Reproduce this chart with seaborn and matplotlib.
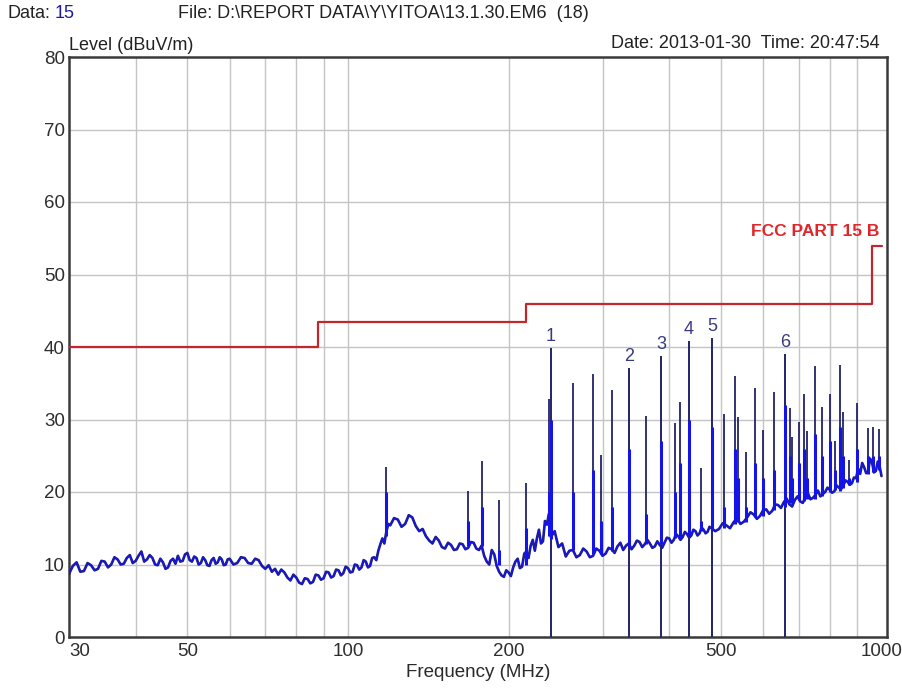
import numpy as np
import matplotlib
matplotlib.use('Agg')
import matplotlib.pyplot as plt
import seaborn as sns
import pandas as pd


# baseline trace (MHz, dBuV/m)
trace_mhz = [30, 30.5, 31, 31.5, 32, 32.5, 33, 33.5, 34, 34.5, 35, 35.5, 36, 36.5, 37, 37.5,
             38, 38.5, 39, 39.5, 40, 40.5, 41, 41.5, 42, 42.5, 43, 43.5, 44, 44.5, 45, 45.5,
             46, 46.5, 47, 47.5, 48, 48.5, 49, 49.5, 50, 50.5, 51, 51.5, 52, 52.5, 53, 53.5,
             54, 54.5, 55, 55.5, 56, 56.5, 57, 57.5, 58, 58.5, 59, 59.5,
             60, 61, 62, 63, 64, 65, 66, 67, 68, 69, 70, 71, 72, 73, 74, 75, 76, 77, 78, 79,
             80, 81, 82, 83, 84, 85, 86, 87, 88, 89, 90, 91, 92, 93, 94, 95, 96, 97, 98, 99,
             100, 101, 102, 103, 104, 105, 106, 107, 108, 109, 110, 111, 112, 113, 114, 115,
             116, 117, 118, 119,
             120, 122, 124, 126, 128, 130, 132, 134, 136, 138, 140, 142, 144, 146, 148, 150,
             152, 154, 156, 158, 160, 162, 164, 166, 168, 170, 172, 174, 176, 178, 180, 182,
             184, 186, 188, 190, 192, 194, 196, 198, 200, 202, 204, 206, 208, 210, 212, 214,
             216, 218, 220, 222, 224, 226, 228, 230, 232, 234, 236, 238,
             240, 244, 248, 252, 256, 260, 264, 268, 272, 276, 280, 284, 288, 292, 296, 300,
             304, 308, 312, 316, 320, 324, 328, 332, 336, 340, 344, 348, 352, 356, 360, 364,
             368, 372, 376, 380, 384, 388, 392, 396, 400, 404, 408, 412, 416, 420, 424, 428,
             432, 436, 440, 444, 448, 452, 456, 460, 464, 468, 472, 476,
             480, 488, 496, 504, 512, 520, 528, 536, 544, 552, 560, 568, 576, 584, 592, 600,
             608, 616, 624, 632, 640, 648, 656, 664, 672, 680, 688, 696, 704, 712, 720, 728,
             736, 744, 752, 760, 768, 776, 784, 792, 800, 808, 816, 824, 832, 840, 848, 856,
             864, 872, 880, 888, 896, 904, 912, 920, 928, 936, 944, 952, 960, 968, 976, 984,
             992, 1000]
trace_db = [8.7, 9.8, 10.3, 9.0, 9.1, 10.2, 9.9, 9.2, 9.4, 10.5, 10.4, 9.6, 10.0, 11.0, 10.7,
            10.0, 10.1, 10.9, 11.3, 10.2, 10.5, 11.2, 11.8, 10.4, 10.7, 11.3, 10.9, 10.0, 9.9,
            10.8, 10.3, 9.4, 9.6, 10.5, 10.8, 10.1, 11.2, 10.4, 10.5, 11.4, 11.6, 10.6, 10.4,
            11.1, 10.9, 10.0, 10.2, 11.0, 10.6, 9.9, 9.8, 10.6, 10.9, 10.1, 10.3, 11.0, 10.7,
            9.9, 10.0, 10.7,
            10.8, 10.0, 10.2, 11.0, 10.9, 10.2, 10.1, 10.8, 10.6, 9.8, 9.4, 9.9, 9.0, 9.4, 8.6,
            9.3, 8.9, 8.2, 7.8, 8.6, 8.2, 7.5, 7.3, 8.1, 8.0, 7.4, 7.6, 8.6, 8.5, 7.9, 8.1, 9.0,
            8.9, 8.2, 8.4, 9.3, 9.2, 8.5, 8.8, 9.7, 9.5, 8.9, 9.0, 10.0, 9.9, 9.3, 9.6, 10.6,
            10.4, 9.6, 9.8, 10.9, 11.0, 10.6, 11.9, 12.8, 13.6, 12.9, 14.5, 15.6,
            15.4, 16.4, 16.2, 15.2, 15.6, 16.8, 16.5, 15.3, 14.6, 14.9, 13.9, 13.3, 12.9, 13.8,
            13.3, 12.4, 12.2, 13.0, 12.7, 12.0, 12.1, 12.9, 12.8, 12.1, 12.3, 13.1, 13.0, 12.2,
            12.0, 12.6, 11.2, 10.4, 10.0, 12.0, 11.4, 9.8, 9.0, 8.5, 8.3, 9.2, 8.9, 8.4, 9.6,
            10.4, 10.8, 9.5, 9.7, 11.5, 11.8, 10.9, 12.6, 13.4, 11.9, 13.6, 14.8, 12.9, 13.2,
            16.0, 15.5, 17.0,
            13.8, 14.6, 12.4, 12.9, 11.1, 11.9, 12.0, 11.0, 11.3, 12.2, 11.8, 11.0, 11.2, 12.2,
            11.9, 11.2, 11.5, 12.3, 12.1, 11.6, 12.5, 13.0, 12.0, 12.6, 12.9, 12.1, 12.6, 13.3,
            13.1, 12.4, 12.8, 13.4, 12.9, 12.3, 12.5, 13.2, 12.7, 12.3, 13.0, 13.7, 13.6, 13.0,
            13.4, 14.2, 13.9, 13.4, 13.8, 14.5, 14.2, 13.7, 14.0, 14.8, 14.6, 14.0, 14.3, 15.1,
            14.8, 14.3, 14.5, 15.2,
            15.0, 14.6, 14.9, 15.7, 15.4, 15.0, 15.8, 16.4, 15.6, 15.9, 16.5, 17.2, 16.9, 16.3,
            16.7, 17.5, 17.6, 17.0, 17.4, 18.3, 18.2, 17.8, 18.6, 19.1, 18.3, 18.0, 18.9, 19.4,
            18.7, 18.5, 19.3, 19.8, 19.0, 19.2, 19.6, 20.2, 19.4, 19.7, 20.0, 20.6, 20.3, 19.9,
            20.1, 20.9, 20.6, 20.4, 20.9, 21.6, 21.4, 21.0, 21.2, 22.0, 21.9, 23.2, 22.5, 24.0,
            23.4, 22.6, 22.8, 24.6, 24.1, 22.7, 22.9, 24.2, 23.5, 22.2]

# narrow emission spikes: frequency, foot, top of blue part, peak
spike_mhz = [118, 168, 178, 192, 216, 238, 264, 288, 298, 312, 362, 410, 419, 459,
             507, 531, 538, 557, 579, 600, 629, 674, 680, 700, 716, 725, 751, 774,
             801, 818, 836, 847, 869, 900, 944, 964, 990]
spike_base = [14.0, 12.5, 12.5, 10.0, 10.0, 14.0, 12.0, 11.5, 11.5, 11.8, 12.8, 13.6, 13.5,
              14.6, 15.0, 15.6, 15.8, 15.8, 16.5, 16.7, 17.5, 18.5, 18.5, 18.9, 18.8, 19.0,
              19.1, 19.5, 20.0, 20.3, 20.2, 20.6, 20.9, 21.4, 22.5, 22.8, 23.0]
spike_blue = [20, 16, 18, 12, 15, 20, 20, 23, 16, 18, 17, 20, 24, 16,
              18, 26, 22, 18, 24, 22, 23, 25, 22, 24, 26, 22, 28, 25,
              27, 23, 29, 25, 22, 26, 25, 25, 25]
spike_peak = [23.5, 20.1, 24.3, 18.9, 21.2, 32.8, 35.0, 36.3, 25.1, 34.1, 30.5, 29.5, 32.4,
              23.3, 30.8, 36.0, 30.3, 25.5, 34.3, 28.6, 33.8, 31.6, 27.6, 29.7, 33.5, 28.4,
              37.4, 31.7, 33.5, 27.0, 37.5, 31.0, 24.4, 32.3, 28.8, 29.0, 28.7]

# marked peaks
mark_no = ['1', '2', '3', '4', '5', '6']
mark_mhz = [240, 336, 386, 435, 481, 659]
mark_db = [39.9, 37.1, 38.8, 40.8, 41.2, 39.0]
mark_blue = [30, 26, 27, 30, 29, 32]

# FCC part 15 B class B limit
limit_mhz = [30, 88, 216, 960, 1000]
limit_db = [40, 43.5, 46, 54, 54]

x_ticks = [30, 50, 100, 200, 500, 1000]
x_minor = [40, 60, 70, 80, 90, 300, 400, 600, 700, 800, 900]
y_ticks = [0, 10, 20, 30, 40, 50, 60, 70, 80]

navy = '#23236b'
blue = '#1414e8'
grey = '#c4c4c4'

sns.set_style('white')
plt.rcParams['font.family'] = ['Liberation Sans', 'DejaVu Sans']

W, H = 903, 688
fig = plt.figure(figsize=(W / 100, H / 100), dpi=100)
ax = fig.add_axes([69 / W, 1 - 637 / H, 818 / W, 580 / H])

ax.set_xscale('log')
ax.set_xlim(30, 1024)
ax.set_ylim(0, 80)

# grid
for f in x_ticks[1:-1] + x_minor:
    ax.axvline(f, color=grey, lw=1, zorder=0)
for v in y_ticks[1:-1]:
    ax.axhline(v, color=grey, lw=1, zorder=0)

# limit line
lim = pd.DataFrame({'MHz': limit_mhz, 'dB': limit_db})
sns.lineplot(data=lim, x='MHz', y='dB', drawstyle='steps-post', color='#c2272d', lw=1.6,
             ax=ax, zorder=3)
ax.text(990, 55.9, 'FCC PART 15 B', color='#e0262a', fontsize=12.5, fontweight='bold',
        ha='right', va='center')

# trace
tr = pd.DataFrame({'MHz': trace_mhz, 'dB': trace_db})
ax.vlines(spike_mhz, spike_base, spike_peak, color=navy, lw=1.3, zorder=4)
ax.vlines(spike_mhz, spike_base, spike_blue, color=blue, lw=2.2, zorder=5)
sns.lineplot(data=tr, x='MHz', y='dB', color=navy, lw=1.9, ax=ax, zorder=4)
sns.lineplot(data=tr, x='MHz', y='dB', color=blue, lw=1.0, ax=ax, zorder=5)

# peak markers
ax.vlines(mark_mhz, 0, mark_db, color=navy, lw=1.4, zorder=6)
ax.vlines(mark_mhz, [13.5, 12.5, 12.8, 14.0, 14.8, 18.0], mark_blue, color=blue, lw=2.2,
          zorder=6)
for n, f, v in zip(mark_no, mark_mhz, mark_db):
    ax.text(f, v + 0.4, n, color='#3a3a80', fontsize=13, ha='center', va='bottom')

# axes styling
for s in ax.spines.values():
    s.set_color('#3a3a3a')
    s.set_linewidth(1.8)
ax.set_xticks(x_ticks)
ax.set_xticks([], minor=True)
ax.set_xticklabels([str(t) for t in x_ticks])
ax.set_yticks(y_ticks)
ax.set_yticklabels([str(t) for t in y_ticks])
ax.tick_params(length=0, labelsize=13.5, labelcolor='#2e2e2e', pad=4)
ax.tick_params(axis='y', pad=3)
ax.get_xticklabels()[0].set_horizontalalignment('left')
ax.set_xlabel('Frequency (MHz)', fontsize=13.5, color='#2a2a2a', labelpad=3)
ax.set_ylabel('')

# header texts
fig.text(8 / W, 1 - 13 / H, 'Data:', fontsize=13, color='#222222', va='center')
fig.text(55 / W, 1 - 13 / H, '15', fontsize=13, color='#1c1c9a', va='center')
fig.text(178 / W, 1 - 13 / H, 'File: D:\\REPORT DATA\\Y\\YITOA\\13.1.30.EM6  (18)', fontsize=13,
         color='#222222', va='center')
fig.text(69 / W, 1 - 46 / H, 'Level (dBuV/m)', fontsize=13, color='#222222', va='center')
fig.text(880 / W, 1 - 44 / H, 'Date: 2013-01-30  Time: 20:47:54', fontsize=13,
         color='#222222', va='center', ha='right')

fig.savefig('out.png', dpi=100)
